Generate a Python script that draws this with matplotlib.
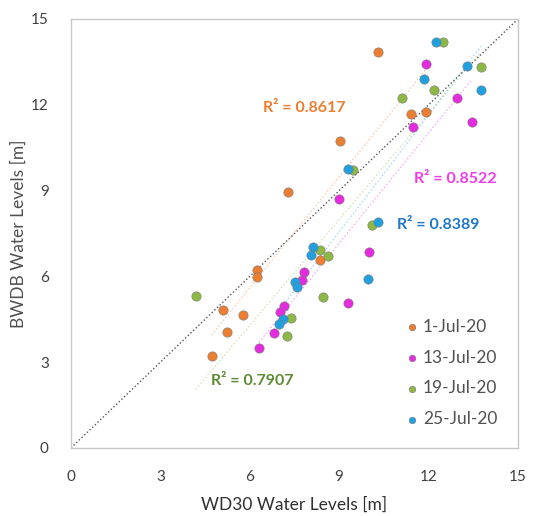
import numpy as np
import matplotlib.pyplot as plt

plt.rcParams['font.family'] = ['Lato', 'DejaVu Sans']

# WD30 (x) vs BWDB (y) water levels, metres
jul01_x = [10.3, 11.41, 11.91, 9.03, 7.28, 6.23, 6.23, 8.36, 5.10, 5.76, 5.22, 4.72]
jul01_y = [13.85, 11.68, 11.75, 10.73, 8.95, 6.22, 5.99, 6.57, 4.83, 4.65, 4.07, 3.22]

jul13_x = [11.93, 12.95, 13.45, 11.49, 8.99, 10.01, 9.31, 7.82, 7.74, 7.15, 7.0, 6.81, 6.31]
jul13_y = [13.41, 12.25, 11.41, 11.21, 8.71, 6.86, 5.06, 6.14, 5.87, 4.97, 4.75, 4.01, 3.49]

jul19_x = [12.49, 13.75, 12.18, 11.10, 9.46, 10.09, 8.36, 8.62, 4.19, 8.45, 7.38, 7.26]
jul19_y = [14.18, 13.33, 12.52, 12.23, 9.72, 7.80, 6.92, 6.71, 5.31, 5.29, 4.53, 3.92]

jul25_x = [12.25, 13.28, 11.85, 13.76, 9.31, 10.31, 8.11, 8.04, 7.52, 7.57, 7.12, 6.99, 9.98]
jul25_y = [14.18, 13.37, 12.89, 12.52, 9.76, 7.91, 7.04, 6.75, 5.82, 5.64, 4.50, 4.32, 5.90]

labels = ['1-Jul-20', '13-Jul-20', '19-Jul-20', '25-Jul-20']
r2_text = ['R² = 0.8617', 'R² = 0.8522', 'R² = 0.7907', 'R² = 0.8389']
ticks = [0, 3, 6, 9, 12, 15]

colors = ['#ED7D31', '#E62AE0', '#8DB844', '#1FA0E0']
text_colors = ['#ED7D31', '#F03CE8', '#5E8A35', '#1F78C8']
text_pos = [(6.45, 11.9), (11.5, 9.4), (4.7, 2.35), (10.95, 7.8)]

series = [(jul01_x, jul01_y), (jul13_x, jul13_y), (jul19_x, jul19_y), (jul25_x, jul25_y)]

fig = plt.figure(figsize=(5.39, 5.16), dpi=100)
ax = fig.add_axes([0.1317, 0.1318, 0.8293, 0.8314])

# 1:1 line
ax.plot([0, 15], [0, 15], ls=':', color='#555555', lw=1.0, zorder=1)

for (x, y), c, lab in zip(series, colors, labels):
    x = np.array(x)
    y = np.array(y)
    m, b = np.polyfit(x, y, 1)
    xs = np.array([x.min(), x.max()])
    ax.plot(xs, m * xs + b, ls=':', color=c, lw=1.0, alpha=0.4, zorder=1)
    ax.scatter(x, y, s=45, color=c, edgecolors='#777777', linewidths=0.4,
               label=lab, zorder=3)

for t, (tx, ty), c in zip(r2_text, text_pos, text_colors):
    ax.text(tx, ty, t, color=c, fontsize=11.5, fontweight='bold', ha='left', va='center')

ax.set_xlim(0, 15)
ax.set_ylim(0, 15)
ax.set_xticks(ticks)
ax.set_yticks(ticks)
ax.tick_params(axis='x', length=0, labelsize=11, colors='#404040', pad=16)
ax.tick_params(axis='y', length=0, labelsize=11, colors='#404040', pad=16)
for s in ax.spines.values():
    s.set_color('#C8C8C8')
    s.set_linewidth(1.0)

ax.set_xlabel('WD30 Water Levels [m]', fontsize=12.5, color='#303030', labelpad=9)
ax.set_ylabel('BWDB Water Levels [m]', fontsize=12.5, color='#505050', labelpad=3)

leg = ax.legend(loc='lower right', frameon=False, fontsize=12.5, handletextpad=0.1,
                markerscale=0.7, labelspacing=0.85, borderaxespad=0.8,
                handlelength=1.0)
for t in leg.get_texts():
    t.set_color('#505050')

fig.savefig('out.png', dpi=100)
